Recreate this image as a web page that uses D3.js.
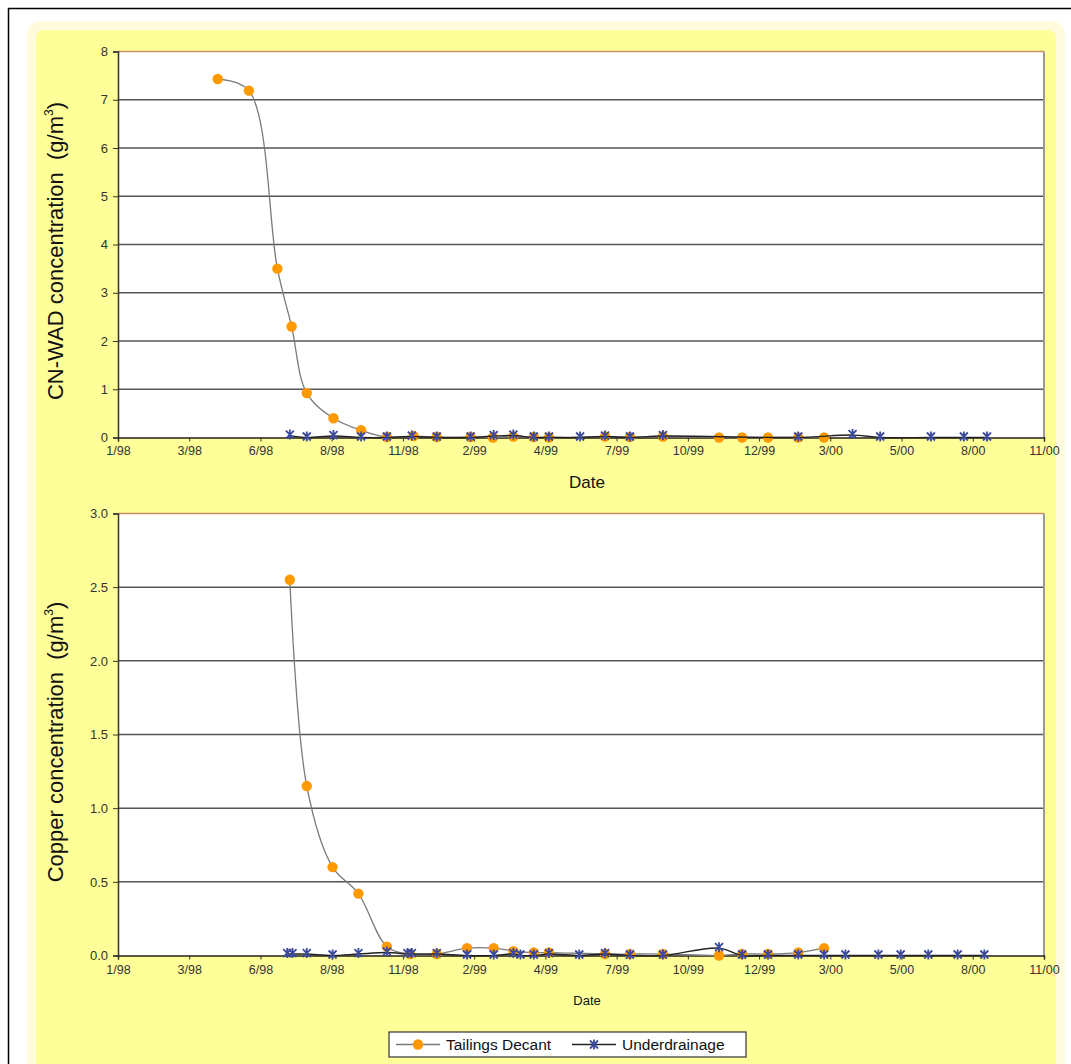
<!DOCTYPE html>
<html>
<head>
<meta charset="utf-8">
<script src="https://cdn.jsdelivr.net/npm/d3@7"></script>
<style>
  body { margin: 0; background: #fff; }
  svg { display: block; font-family: "Liberation Sans", Arial, sans-serif; }
</style>
</head>
<body>
<svg id="chart" width="1071" height="1064"></svg>
<script>
// x axis: Excel date axis starting 1/1/98, major unit 80 days
const xStart = "1998-01-01";
const xStepDays = 80;
const xTickLabels = ["1/98", "3/98", "6/98", "8/98", "11/98", "2/99", "4/99", "7/99", "10/99", "12/99", "3/00", "5/00", "8/00", "11/00"];

// CN-WAD panel
const cnTicks = [0, 1, 2, 3, 4, 5, 6, 7, 8];
const cnDecantDates = ["1998-04-23", "1998-05-28", "1998-06-29", "1998-07-15", "1998-08-01", "1998-08-31", "1998-10-01", "1998-10-30", "1998-11-29", "1998-12-25", "1999-02-01", "1999-02-26", "1999-03-21", "1999-04-13", "1999-04-30", "1999-07-02", "1999-07-30", "1999-09-05", "1999-11-07", "1999-12-03", "2000-01-01", "2000-02-04", "2000-03-04"];
const cnDecantValues = [7.43, 7.19, 3.5, 2.3, 0.92, 0.4, 0.15, 0.01, 0.03, 0.01, 0.01, 0.0, 0.02, 0.01, 0.0, 0.02, 0.01, 0.02, 0.0, 0.0, 0.0, 0.0, 0.0];
const cnUnderDates = ["1998-07-13", "1998-08-01", "1998-08-31", "1998-10-01", "1998-10-30", "1998-11-27", "1998-12-25", "1999-02-01", "1999-02-27", "1999-03-21", "1999-04-13", "1999-04-30", "1999-06-04", "1999-07-02", "1999-07-30", "1999-09-05", "2000-02-04", "2000-04-05", "2000-05-06", "2000-07-02", "2000-08-08", "2000-09-03"];
const cnUnderValues = [0.04, 0.0, 0.03, 0.0, 0.0, 0.02, 0.0, 0.0, 0.03, 0.04, 0.0, 0.0, 0.0, 0.02, 0.0, 0.03, 0.0, 0.05, 0.0, 0.0, 0.0, 0.0];

// Copper panel
const cuTicks = [0, 0.5, 1.0, 1.5, 2.0, 2.5, 3.0];
const cuDecantDates = ["1998-07-13", "1998-08-01", "1998-08-30", "1998-09-28", "1998-10-30", "1998-11-25", "1998-12-25", "1999-01-28", "1999-02-27", "1999-03-21", "1999-04-13", "1999-04-30", "1999-07-02", "1999-07-30", "1999-09-05", "1999-11-07", "1999-12-03", "2000-01-01", "2000-02-04", "2000-03-04"];
const cuDecantValues = [2.55, 1.15, 0.6, 0.42, 0.06, 0.01, 0.01, 0.05, 0.05, 0.03, 0.02, 0.02, 0.01, 0.01, 0.01, 0.0, 0.01, 0.01, 0.02, 0.05];
const cuUnderDates = ["1998-07-10", "1998-07-16", "1998-08-01", "1998-08-30", "1998-09-28", "1998-10-30", "1998-11-22", "1998-11-27", "1998-12-25", "1999-01-28", "1999-02-27", "1999-03-21", "1999-03-29", "1999-04-13", "1999-04-30", "1999-06-03", "1999-07-02", "1999-07-30", "1999-09-05", "1999-11-07", "1999-12-03", "2000-01-01", "2000-02-04", "2000-03-04", "2000-03-28", "2000-05-04", "2000-05-29", "2000-06-29", "2000-08-01", "2000-08-31"];
const cuUnderValues = [0.01, 0.01, 0.01, 0.0, 0.01, 0.02, 0.01, 0.01, 0.01, 0.0, 0.0, 0.01, 0.0, 0.0, 0.01, 0.0, 0.01, 0.0, 0.0, 0.05, 0.0, 0.0, 0.0, 0.0, 0.0, 0.0, 0.0, 0.0, 0.0, 0.0];

const seriesNames = ["Tailings Decant", "Underdrainage"];

const orange = "#ff9900";
const navy = "#3c4a9c";
const parse = d3.utcParse("%Y-%m-%d");
const zip = (dates, vals) => dates.map((d, i) => ({ date: parse(d), value: vals[i] }));

const svg = d3.select("#chart");

// frame + yellow background
svg.append("rect").attr("x", 8.5).attr("y", 8.5).attr("width", 1100).attr("height", 1100)
  .attr("fill", "#fff").attr("stroke", "#000").attr("stroke-width", 1.5);
svg.append("rect").attr("x", 27).attr("y", 21).attr("width", 1038).attr("height", 1080).attr("rx", 14)
  .attr("fill", "#fffbdc");
svg.append("rect").attr("x", 36).attr("y", 30).attr("width", 1020).attr("height", 1070).attr("rx", 8)
  .attr("fill", "#ffff99");

const start = parse(xStart);
const xTickValues = xTickLabels.map((_, i) => d3.utcDay.offset(start, i * xStepDays));
const x = d3.scaleUtc().domain([start, xTickValues[xTickValues.length - 1]]).range([118, 1044]);

function starPath(s) {
  return `M${-s},${-s}L${s},${s}M${-s},${s}L${s},${-s}M0,${-s - 1}L0,${s + 1}`;
}

function panel({ top, bottom, ticks, fmt, decant, under, title, dateY, dateSize, tickLabelY }) {
  const y = d3.scaleLinear().domain([0, ticks[ticks.length - 1]]).range([bottom, top]);
  const g = svg.append("g");

  g.append("rect").attr("x", x.range()[0]).attr("y", top)
    .attr("width", x.range()[1] - x.range()[0]).attr("height", bottom - top).attr("fill", "#fff");

  // gridlines
  g.append("g").selectAll("line").data(ticks.slice(1, -1)).join("line")
    .attr("x1", x.range()[0]).attr("x2", x.range()[1])
    .attr("y1", (d) => y(d)).attr("y2", (d) => y(d))
    .attr("stroke", "#555").attr("stroke-width", 1.5);

  // plot border: top (brownish), right (gray)
  g.append("line").attr("x1", x.range()[0]).attr("x2", x.range()[1]).attr("y1", top).attr("y2", top)
    .attr("stroke", "#c89060").attr("stroke-width", 1.5);
  g.append("line").attr("x1", x.range()[1]).attr("x2", x.range()[1]).attr("y1", top).attr("y2", bottom)
    .attr("stroke", "#999").attr("stroke-width", 2);

  // y axis
  const yAxis = g.append("g").attr("transform", `translate(${x.range()[0]},0)`)
    .call(d3.axisLeft(y).tickValues(ticks).tickFormat(fmt).tickSize(5).tickPadding(5));
  yAxis.select(".domain").attr("stroke", "#333").attr("stroke-width", 1.5);
  yAxis.selectAll(".tick line").attr("stroke", "#333");
  yAxis.selectAll("text").attr("fill", "#333").attr("font-size", 13);

  // x axis
  const xAxis = g.append("g").attr("transform", `translate(0,${bottom})`)
    .call(d3.axisBottom(x).tickValues(xTickValues).tickFormat((d, i) => xTickLabels[i]).tickSize(4).tickPadding(tickLabelY));
  xAxis.select(".domain").attr("stroke", "#222").attr("stroke-width", 1.5);
  xAxis.selectAll(".tick line").attr("stroke", "#333");
  xAxis.selectAll("text").attr("fill", "#333").attr("font-size", 12.5);

  // axis titles
  const t = g.append("text")
    .attr("transform", `translate(63,${title.cy}) rotate(-90)`)
    .attr("text-anchor", "middle").attr("font-size", 22).attr("fill", "#111")
    .style("white-space", "pre");
  t.append("tspan").text(title.text + "  (g/m");
  t.append("tspan").attr("font-size", 12).attr("dy", -10).text("3");
  t.append("tspan").attr("dy", 10).text(")");

  g.append("text").attr("x", 587).attr("y", dateY).attr("text-anchor", "middle")
    .attr("font-size", dateSize).attr("fill", "#111").text("Date");

  const line = d3.line().x((d) => x(d.date)).y((d) => y(d.value)).curve(d3.curveCatmullRom.alpha(0.5));

  g.append("path").datum(decant).attr("d", line).attr("fill", "none")
    .attr("stroke", "#7a7a7a").attr("stroke-width", 1.3);
  g.append("g").selectAll("circle").data(decant).join("circle")
    .attr("cx", (d) => x(d.date)).attr("cy", (d) => y(d.value)).attr("r", 5.2).attr("fill", orange);

  g.append("path").datum(under).attr("d", line).attr("fill", "none")
    .attr("stroke", "#222").attr("stroke-width", 1.4);
  g.append("g").selectAll("path").data(under).join("path")
    .attr("transform", (d) => `translate(${x(d.date)},${y(d.value) - 1})`)
    .attr("d", starPath(4)).attr("fill", "none").attr("stroke", navy).attr("stroke-width", 1.8);
}

panel({
  top: 51.5, bottom: 437.5, ticks: cnTicks, fmt: d3.format("d"),
  decant: zip(cnDecantDates, cnDecantValues), under: zip(cnUnderDates, cnUnderValues),
  title: { text: "CN-WAD concentration", cy: 251 }, dateY: 488, dateSize: 17, tickLabelY: 5
});

panel({
  top: 513.5, bottom: 955.5, ticks: cuTicks, fmt: d3.format(".1f"),
  decant: zip(cuDecantDates, cuDecantValues), under: zip(cuUnderDates, cuUnderValues),
  title: { text: "Copper concentration", cy: 742 }, dateY: 1005, dateSize: 13, tickLabelY: 6
});

// legend
const lg = svg.append("g").attr("transform", "translate(389,1032)");
lg.append("rect").attr("width", 357).attr("height", 25).attr("fill", "#fff")
  .attr("stroke", "#333").attr("stroke-width", 1.2);
const items = lg.selectAll("g").data(seriesNames).join("g")
  .attr("transform", (d, i) => `translate(${i === 0 ? 7 : 183},12.5)`);
items.append("line").attr("x1", 0).attr("x2", 44)
  .attr("stroke", (d, i) => (i === 0 ? "#7a7a7a" : "#222")).attr("stroke-width", 1.3);
items.filter((d, i) => i === 0).append("circle").attr("cx", 22).attr("r", 5.2).attr("fill", orange);
items.filter((d, i) => i === 1).append("path").attr("transform", "translate(22,0)")
  .attr("d", starPath(4)).attr("fill", "none").attr("stroke", navy).attr("stroke-width", 1.8);
items.append("text").attr("x", 50).attr("dy", "0.35em").attr("font-size", 15.5).attr("fill", "#111").text((d) => d);
</script>
</body>
</html>
